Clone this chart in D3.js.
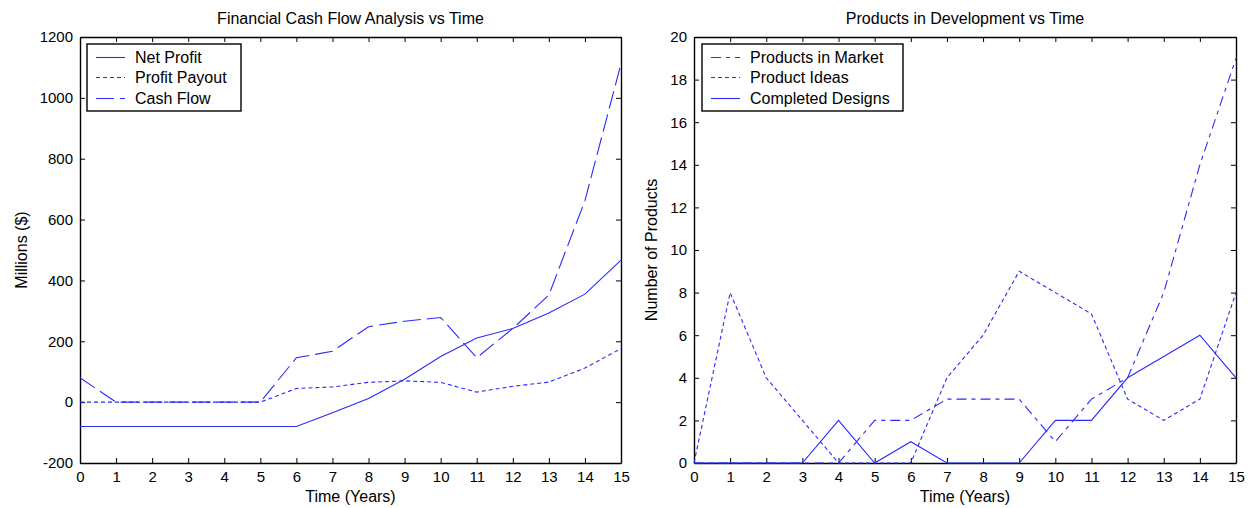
<!DOCTYPE html>
<html lang="en">
<head>
    <meta charset="UTF-8">
    <title>Cash Flow and Products vs Time</title>
    <script src="https://d3js.org/d3.v7.min.js"></script>
    <style>
        body { margin: 0; background: #fff; }
        text { font-family: "Liberation Sans", Arial, sans-serif; fill: #000; }
    </style>
</head>
<body>
    <script>
        // years on the x axis (shared by both panels)
        const years = d3.range(0, 16);

        // left panel, millions of dollars
        const netProfit    = [-80, -80, -80, -80, -80, -80, -80, -35, 12, 75, 150, 211, 242, 293, 355, 467];
        const profitPayout = [0, 0, 0, 0, 0, 0, 45, 50, 65, 70, 65, 33, 52, 66, 112, 176];
        const cashFlow     = [80, 0, 0, 0, 0, 0, 146, 167, 248, 266, 278, 146, 242, 352, 662, 1112];

        // right panel, number of products
        const productsInMarket = [0, 0, 0, 0, 0, 2, 2, 3, 3, 3, 1, 3, 4, 8, 14, 19];
        const productIdeas     = [0, 8, 4, 2, 0, 0, 0, 4, 6, 9, 8, 7, 3, 2, 3, 8];
        const completedDesigns = [0, 0, 0, 0, 2, 0, 1, 0, 0, 0, 2, 2, 4, 5, 6, 4];

        const leftTicks = d3.range(-200, 1201, 200);
        const rightTicks = d3.range(0, 21, 2);

        const W = 1248, H = 508;
        const blue = "#2a2aff";
        const dash = { solid: null, dotted: "4,3", dashed: "18,6", dashdot: "10,5,4,5" };

        const svg = d3.select("body").append("svg")
            .attr("width", W)
            .attr("height", H);

        function panel(opts) {
            const x = d3.scaleLinear().domain([0, 15]).range([opts.left, opts.right]);
            const y = d3.scaleLinear().domain(opts.yDomain).range([opts.bottom, opts.top]);
            const g = svg.append("g");
            const plain = d => String(d);

            // inward ticks, mirrored on the top and right edges
            g.append("g")
                .attr("transform", `translate(0,${opts.bottom})`)
                .call(d3.axisBottom(x).tickValues(years).tickFormat(plain)
                    .tickSizeInner(-5).tickSizeOuter(0).tickPadding(8));
            g.append("g")
                .attr("transform", `translate(0,${opts.top})`)
                .call(d3.axisTop(x).tickValues(years).tickSizeInner(-5).tickSizeOuter(0).tickFormat(""));
            g.append("g")
                .attr("transform", `translate(${opts.left},0)`)
                .call(d3.axisLeft(y).tickValues(opts.yTicks).tickFormat(plain)
                    .tickSizeInner(-5).tickSizeOuter(0).tickPadding(7));
            g.append("g")
                .attr("transform", `translate(${opts.right},0)`)
                .call(d3.axisRight(y).tickValues(opts.yTicks).tickSizeInner(-5).tickSizeOuter(0).tickFormat(""));

            g.selectAll(".domain").attr("stroke", "#000").attr("stroke-width", 1.4);
            g.selectAll(".tick line").attr("stroke", "#000");
            g.selectAll(".tick text").attr("font-size", 15).attr("fill", "#000")
                .attr("font-family", "'Liberation Sans', Arial, sans-serif");

            const line = d3.line().x((d, i) => x(years[i])).y(d => y(d));
            opts.series.forEach(s => {
                g.append("path")
                    .attr("d", line(s.values))
                    .attr("fill", "none")
                    .attr("stroke", blue)
                    .attr("stroke-width", 1.1)
                    .attr("stroke-dasharray", dash[s.style]);
            });

            g.append("text")
                .attr("x", (opts.left + opts.right) / 2)
                .attr("y", 24)
                .attr("text-anchor", "middle")
                .attr("font-size", 16)
                .text(opts.title);
            g.append("text")
                .attr("x", (opts.left + opts.right) / 2)
                .attr("y", 502)
                .attr("text-anchor", "middle")
                .attr("font-size", 16)
                .text("Time (Years)");
            g.append("text")
                .attr("transform", `translate(${opts.yLabelX},${(opts.top + opts.bottom) / 2}) rotate(-90)`)
                .attr("text-anchor", "middle")
                .attr("font-size", 16)
                .text(opts.yLabel);

            // legend box
            const lg = g.append("g").attr("transform", `translate(${opts.legendX},44)`);
            lg.append("rect")
                .attr("width", opts.legendWidth)
                .attr("height", 67)
                .attr("fill", "#fff")
                .attr("stroke", "#000")
                .attr("stroke-width", 1.4);
            opts.series.forEach((s, i) => {
                const yy = Math.floor(13 + i * 20.5) + 0.5;
                lg.append("line")
                    .attr("x1", 9).attr("x2", 38)
                    .attr("y1", yy).attr("y2", yy)
                    .attr("stroke", blue)
                    .attr("stroke-width", 1.1)
                    .attr("stroke-dasharray", dash[s.style]);
                lg.append("text")
                    .attr("x", 48)
                    .attr("y", yy + 5.5)
                    .attr("font-size", 16)
                    .text(s.name);
            });
        }

        panel({
            left: 80, right: 621, top: 37, bottom: 463,
            yDomain: [-200, 1200], yTicks: leftTicks,
            title: "Financial Cash Flow Analysis vs Time",
            yLabel: "Millions ($)", yLabelX: 27,
            legendX: 87, legendWidth: 154,
            series: [
                { name: "Net Profit", values: netProfit, style: "solid" },
                { name: "Profit Payout", values: profitPayout, style: "dotted" },
                { name: "Cash Flow", values: cashFlow, style: "dashed" }
            ]
        });

        panel({
            left: 694, right: 1236, top: 37, bottom: 463,
            yDomain: [0, 20], yTicks: rightTicks,
            title: "Products in Development vs Time",
            yLabel: "Number of Products", yLabelX: 657,
            legendX: 702, legendWidth: 201,
            series: [
                { name: "Products in Market", values: productsInMarket, style: "dashdot" },
                { name: "Product Ideas", values: productIdeas, style: "dotted" },
                { name: "Completed Designs", values: completedDesigns, style: "solid" }
            ]
        });
    </script>
</body>
</html>
